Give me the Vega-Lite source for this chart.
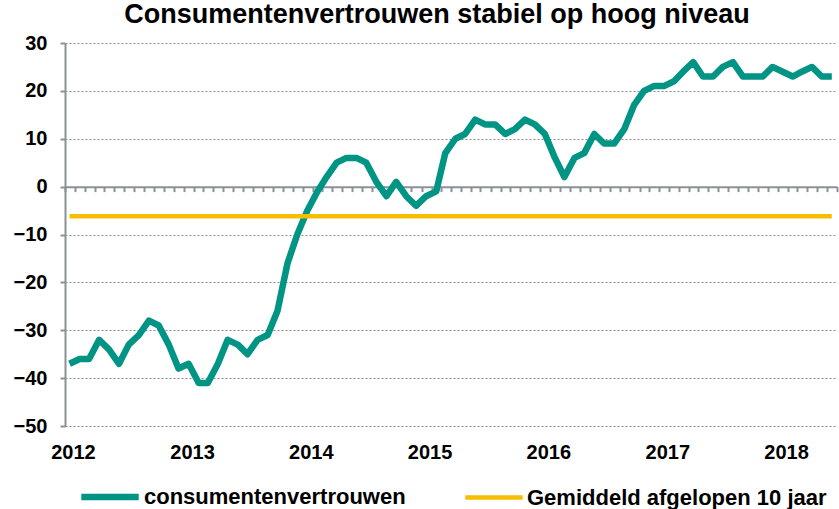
{
  "$schema": "https://vega.github.io/schema/vega-lite/v6.json",
  "width": 772,
  "height": 383,
  "autosize": {"type": "none"},
  "padding": {"left": 65, "top": 43, "right": 2, "bottom": 83},
  "background": "white",
  "title": {"text": "Consumentenvertrouwen stabiel op hoog niveau", "font": "Liberation Sans", "fontSize": 27, "fontWeight": "bold", "color": "black", "anchor": "middle", "offset": 4, "dx": -14},
  "config": {"view": {"stroke": null}, "font": "Liberation Sans"},
  "data": {
    "format": {"parse": {"d": "date:'%Y-%m-%d'"}},
    "values": [
      {"d": "2012-01-15", "consumentenvertrouwen": -37, "gemiddeld": -6.2},
      {"d": "2012-02-15", "consumentenvertrouwen": -36, "gemiddeld": -6.2},
      {"d": "2012-03-15", "consumentenvertrouwen": -36, "gemiddeld": -6.2},
      {"d": "2012-04-15", "consumentenvertrouwen": -32, "gemiddeld": -6.2},
      {"d": "2012-05-15", "consumentenvertrouwen": -34, "gemiddeld": -6.2},
      {"d": "2012-06-15", "consumentenvertrouwen": -37, "gemiddeld": -6.2},
      {"d": "2012-07-15", "consumentenvertrouwen": -33, "gemiddeld": -6.2},
      {"d": "2012-08-15", "consumentenvertrouwen": -31, "gemiddeld": -6.2},
      {"d": "2012-09-15", "consumentenvertrouwen": -28, "gemiddeld": -6.2},
      {"d": "2012-10-15", "consumentenvertrouwen": -29, "gemiddeld": -6.2},
      {"d": "2012-11-15", "consumentenvertrouwen": -33, "gemiddeld": -6.2},
      {"d": "2012-12-15", "consumentenvertrouwen": -38, "gemiddeld": -6.2},
      {"d": "2013-01-15", "consumentenvertrouwen": -37, "gemiddeld": -6.2},
      {"d": "2013-02-15", "consumentenvertrouwen": -41, "gemiddeld": -6.2},
      {"d": "2013-03-15", "consumentenvertrouwen": -41, "gemiddeld": -6.2},
      {"d": "2013-04-15", "consumentenvertrouwen": -37, "gemiddeld": -6.2},
      {"d": "2013-05-15", "consumentenvertrouwen": -32, "gemiddeld": -6.2},
      {"d": "2013-06-15", "consumentenvertrouwen": -33, "gemiddeld": -6.2},
      {"d": "2013-07-15", "consumentenvertrouwen": -35, "gemiddeld": -6.2},
      {"d": "2013-08-15", "consumentenvertrouwen": -32, "gemiddeld": -6.2},
      {"d": "2013-09-15", "consumentenvertrouwen": -31, "gemiddeld": -6.2},
      {"d": "2013-10-15", "consumentenvertrouwen": -26, "gemiddeld": -6.2},
      {"d": "2013-11-15", "consumentenvertrouwen": -16, "gemiddeld": -6.2},
      {"d": "2013-12-15", "consumentenvertrouwen": -10, "gemiddeld": -6.2},
      {"d": "2014-01-15", "consumentenvertrouwen": -5, "gemiddeld": -6.2},
      {"d": "2014-02-15", "consumentenvertrouwen": -1, "gemiddeld": -6.2},
      {"d": "2014-03-15", "consumentenvertrouwen": 2, "gemiddeld": -6.2},
      {"d": "2014-04-15", "consumentenvertrouwen": 5, "gemiddeld": -6.2},
      {"d": "2014-05-15", "consumentenvertrouwen": 6, "gemiddeld": -6.2},
      {"d": "2014-06-15", "consumentenvertrouwen": 6, "gemiddeld": -6.2},
      {"d": "2014-07-15", "consumentenvertrouwen": 5, "gemiddeld": -6.2},
      {"d": "2014-08-15", "consumentenvertrouwen": 1, "gemiddeld": -6.2},
      {"d": "2014-09-15", "consumentenvertrouwen": -2, "gemiddeld": -6.2},
      {"d": "2014-10-15", "consumentenvertrouwen": 1, "gemiddeld": -6.2},
      {"d": "2014-11-15", "consumentenvertrouwen": -2, "gemiddeld": -6.2},
      {"d": "2014-12-15", "consumentenvertrouwen": -4, "gemiddeld": -6.2},
      {"d": "2015-01-15", "consumentenvertrouwen": -2, "gemiddeld": -6.2},
      {"d": "2015-02-15", "consumentenvertrouwen": -1, "gemiddeld": -6.2},
      {"d": "2015-03-15", "consumentenvertrouwen": 7, "gemiddeld": -6.2},
      {"d": "2015-04-15", "consumentenvertrouwen": 10, "gemiddeld": -6.2},
      {"d": "2015-05-15", "consumentenvertrouwen": 11, "gemiddeld": -6.2},
      {"d": "2015-06-15", "consumentenvertrouwen": 14, "gemiddeld": -6.2},
      {"d": "2015-07-15", "consumentenvertrouwen": 13, "gemiddeld": -6.2},
      {"d": "2015-08-15", "consumentenvertrouwen": 13, "gemiddeld": -6.2},
      {"d": "2015-09-15", "consumentenvertrouwen": 11, "gemiddeld": -6.2},
      {"d": "2015-10-15", "consumentenvertrouwen": 12, "gemiddeld": -6.2},
      {"d": "2015-11-15", "consumentenvertrouwen": 14, "gemiddeld": -6.2},
      {"d": "2015-12-15", "consumentenvertrouwen": 13, "gemiddeld": -6.2},
      {"d": "2016-01-15", "consumentenvertrouwen": 11, "gemiddeld": -6.2},
      {"d": "2016-02-15", "consumentenvertrouwen": 6, "gemiddeld": -6.2},
      {"d": "2016-03-15", "consumentenvertrouwen": 2, "gemiddeld": -6.2},
      {"d": "2016-04-15", "consumentenvertrouwen": 6, "gemiddeld": -6.2},
      {"d": "2016-05-15", "consumentenvertrouwen": 7, "gemiddeld": -6.2},
      {"d": "2016-06-15", "consumentenvertrouwen": 11, "gemiddeld": -6.2},
      {"d": "2016-07-15", "consumentenvertrouwen": 9, "gemiddeld": -6.2},
      {"d": "2016-08-15", "consumentenvertrouwen": 9, "gemiddeld": -6.2},
      {"d": "2016-09-15", "consumentenvertrouwen": 12, "gemiddeld": -6.2},
      {"d": "2016-10-15", "consumentenvertrouwen": 17, "gemiddeld": -6.2},
      {"d": "2016-11-15", "consumentenvertrouwen": 20, "gemiddeld": -6.2},
      {"d": "2016-12-15", "consumentenvertrouwen": 21, "gemiddeld": -6.2},
      {"d": "2017-01-15", "consumentenvertrouwen": 21, "gemiddeld": -6.2},
      {"d": "2017-02-15", "consumentenvertrouwen": 22, "gemiddeld": -6.2},
      {"d": "2017-03-15", "consumentenvertrouwen": 24, "gemiddeld": -6.2},
      {"d": "2017-04-15", "consumentenvertrouwen": 26, "gemiddeld": -6.2},
      {"d": "2017-05-15", "consumentenvertrouwen": 23, "gemiddeld": -6.2},
      {"d": "2017-06-15", "consumentenvertrouwen": 23, "gemiddeld": -6.2},
      {"d": "2017-07-15", "consumentenvertrouwen": 25, "gemiddeld": -6.2},
      {"d": "2017-08-15", "consumentenvertrouwen": 26, "gemiddeld": -6.2},
      {"d": "2017-09-15", "consumentenvertrouwen": 23, "gemiddeld": -6.2},
      {"d": "2017-10-15", "consumentenvertrouwen": 23, "gemiddeld": -6.2},
      {"d": "2017-11-15", "consumentenvertrouwen": 23, "gemiddeld": -6.2},
      {"d": "2017-12-15", "consumentenvertrouwen": 25, "gemiddeld": -6.2},
      {"d": "2018-01-15", "consumentenvertrouwen": 24, "gemiddeld": -6.2},
      {"d": "2018-02-15", "consumentenvertrouwen": 23, "gemiddeld": -6.2},
      {"d": "2018-03-15", "consumentenvertrouwen": 24, "gemiddeld": -6.2},
      {"d": "2018-04-15", "consumentenvertrouwen": 25, "gemiddeld": -6.2},
      {"d": "2018-05-15", "consumentenvertrouwen": 23, "gemiddeld": -6.2},
      {"d": "2018-06-15", "consumentenvertrouwen": 23, "gemiddeld": -6.2}
    ]
  },
  "layer": [
    {
      "transform": [{"fold": ["consumentenvertrouwen", "gemiddeld"], "as": ["series", "value"]}],
      "mark": {"type": "line", "strokeJoin": "round", "strokeCap": "butt"},
      "encoding": {
        "x": {
          "field": "d", "type": "temporal",
          "scale": {"domain": [{"year": 2012, "month": 1, "date": 1}, {"year": 2018, "month": 7, "date": 1}]},
          "axis": {"orient": "bottom", "title": null, "format": "%Y", "tickCount": {"interval": "year", "step": 1}, "ticks": false, "domain": false, "grid": false, "labelFont": "Liberation Sans", "labelFontSize": 20, "labelFontWeight": "bold", "labelColor": "black", "labelPadding": 16, "labelOffset": 8, "labelFlush": false, "labelOverlap": false}
        },
        "y": {
          "field": "value", "type": "quantitative",
          "scale": {"domain": [-50, 30], "nice": false, "zero": false},
          "axis": {"orient": "left", "title": null, "values": [-50, -40, -30, -20, -10, 0, 10, 20, 30], "labelFont": "Liberation Sans", "labelFontSize": 20, "labelFontWeight": "bold", "labelColor": "black", "labelPadding": 13, "tickSize": 5, "tickWidth": 2, "tickColor": "#8c9196", "domainColor": "#8c9196", "domainWidth": 2, "grid": true, "gridDash": [2, 2], "gridColor": "#8a8a8a", "gridWidth": 1}
        },
        "color": {
          "field": "series", "type": "nominal",
          "scale": {"domain": ["consumentenvertrouwen", "gemiddeld"], "range": ["#009485", "#F5BE00"]},
          "legend": {"orient": "none", "legendX": 13, "legendY": 422, "direction": "horizontal", "title": null, "symbolType": "stroke", "symbolSize": 3300, "symbolStrokeWidth": 7, "labelFont": "Liberation Sans", "labelFontSize": 22, "labelFontWeight": "bold", "labelColor": "black", "columnPadding": 50, "labelOffset": 2, "labelLimit": 400, "labelExpr": "datum.label == 'gemiddeld' ? 'Gemiddeld afgelopen 10 jaar' : datum.label"}
        },
        "strokeWidth": {
          "field": "series", "type": "nominal",
          "scale": {"domain": ["consumentenvertrouwen", "gemiddeld"], "range": [6.5, 4.5]},
          "legend": null
        }
      }
    },
    {
      "mark": {"type": "rule", "strokeOpacity": 0},
      "encoding": {
        "x": {
          "field": "d", "type": "temporal",
          "axis": {"orient": "top", "offset": -143.625, "title": null, "labels": false, "grid": false, "tickCount": {"interval": "month", "step": 1}, "tickSize": -5, "tickWidth": 2, "tickColor": "#8c9196", "domain": true, "domainColor": "#8c9196", "domainWidth": 2}
        },
        "y": {"datum": 0}
      }
    }
  ],
  "resolve": {"axis": {"x": "independent"}}
}
